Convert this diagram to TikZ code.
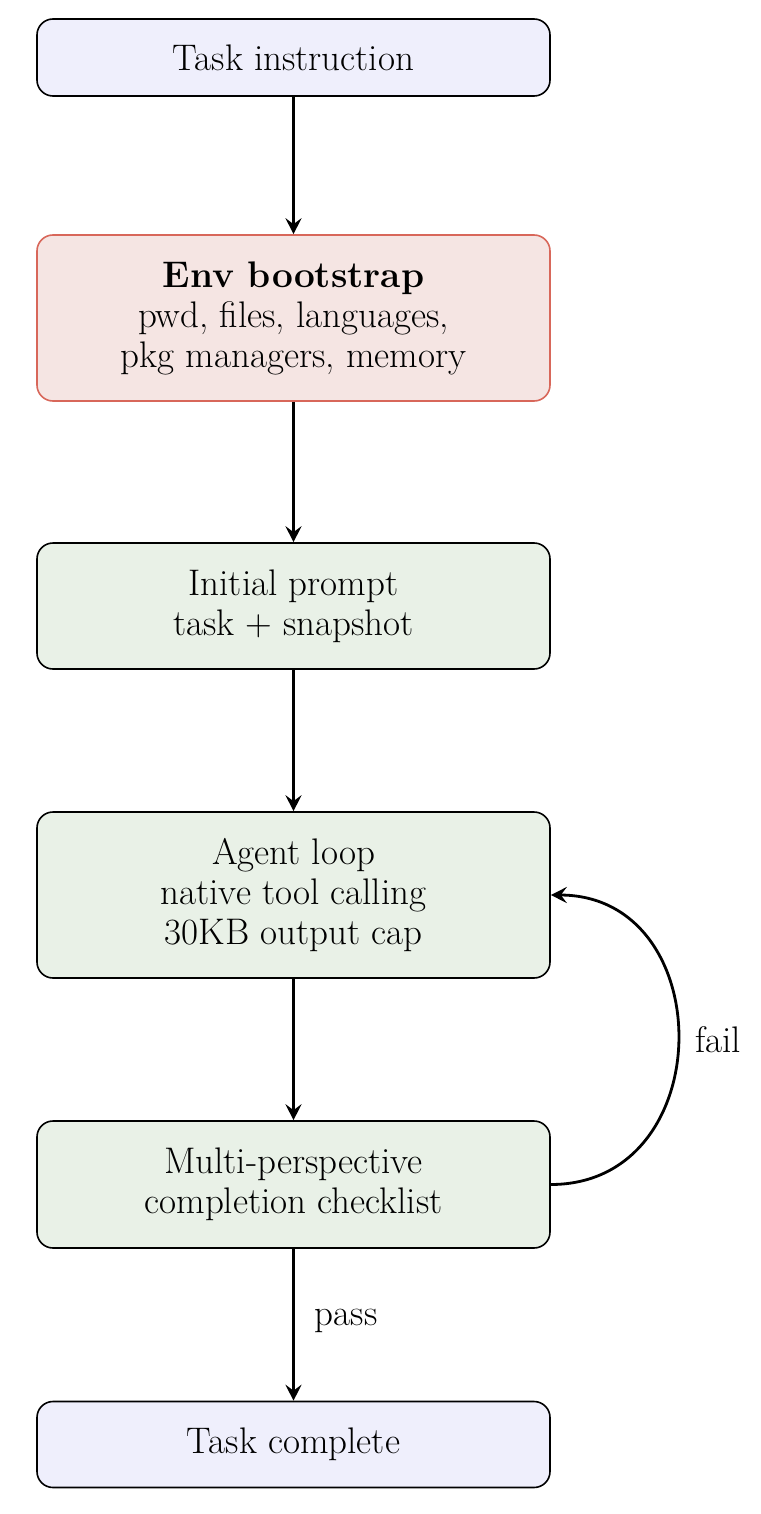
\documentclass[tikz,border=0pt]{standalone}
\usetikzlibrary{arrows.meta}
\definecolor{bluefill}{HTML}{EFEFFC}
\definecolor{redfill}{HTML}{F5E5E3}
\definecolor{redline}{HTML}{D8675A}
\definecolor{greenfill}{HTML}{E9F1E7}
\begin{document}
\begin{tikzpicture}[x=0.5pt,y=-0.5pt,
  box/.style={draw, rounded corners=8pt, line width=0.8pt, minimum width=256.5pt,
    align=center, inner sep=0pt, font=\fontsize{18.5}{20}\selectfont},
  bluebox/.style={box, fill=bluefill},
  redbox/.style={box, fill=redfill, draw=redline},
  greenbox/.style={box, fill=greenfill},
  flow/.style={-{Stealth[length=8pt,width=8pt,inset=3pt]}, line width=1.4pt},
  lbl/.style={font=\fontsize{18.5}{20}\selectfont, inner sep=0pt}]
\useasboundingbox (0,0) rectangle (760,1514);
\node[bluebox, minimum height=38.5pt] (task) at (293.5,57.5) {Task instruction};
\node[redbox, minimum height=83pt] (env) at (293.5,318) {\textbf{Env bootstrap}\\pwd, files, languages,\\pkg managers, memory};
\node[greenbox, minimum height=63pt] (init) at (293.5,606) {Initial prompt\\task + snapshot};
\node[greenbox, minimum height=83pt] (agent) at (293.5,895) {Agent loop\\native tool calling\\30KB output cap};
\node[greenbox, minimum height=63.5pt] (check) at (293.5,1184.5) {Multi-perspective\\completion checklist};
\node[bluebox, minimum height=43pt] (done) at (293.5,1444.5) {Task complete};
\draw[flow] (task) -- (env);
\draw[flow] (env) -- (init);
\draw[flow] (init) -- (agent);
\draw[flow] (agent) -- (check);
\draw[flow] (check) -- node[lbl, midway, anchor=west, xshift=10pt, yshift=2pt] (passl) {pass} (done);
\draw[flow] (check.east) to[out=0, in=0, looseness=1.5] node[lbl, midway, anchor=west, xshift=8pt] (faill) {fail} (agent.east);
\end{tikzpicture}
\end{document}
